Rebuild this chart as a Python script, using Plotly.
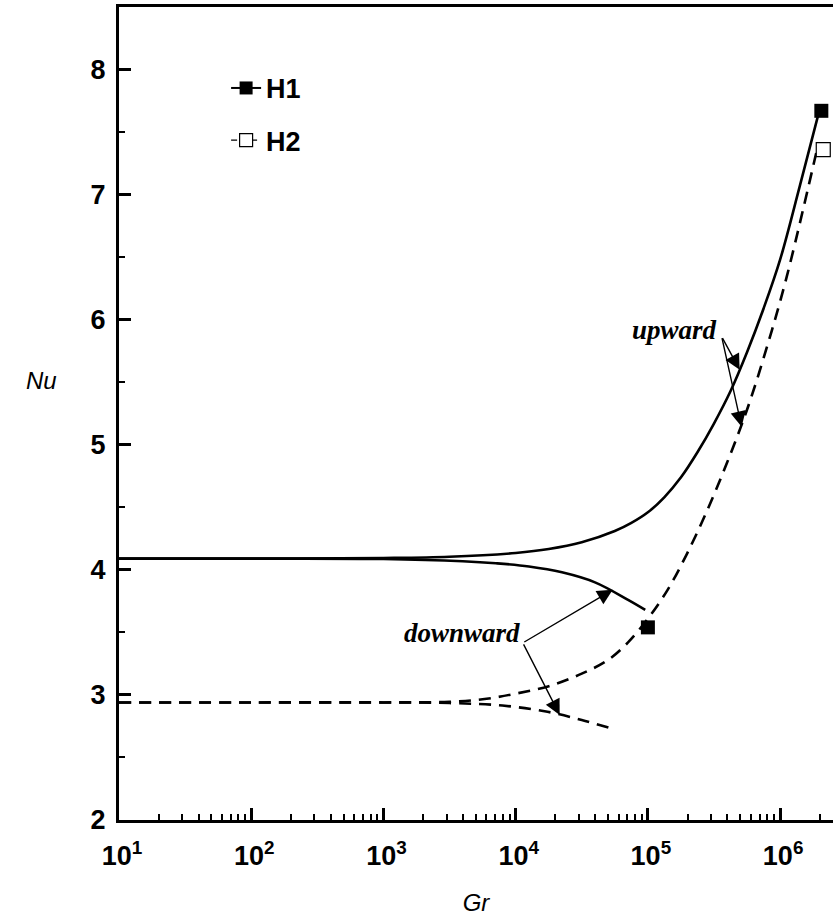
import plotly.graph_objects as go

# ---------------- data ----------------
h1_up_gr = [10, 100, 1000, 3.16e3, 1.0e4, 1.78e4, 3.16e4, 5.62e4, 7.5e4, 1.0e5, 1.33e5,
            1.78e5, 2.37e5, 3.16e5, 4.22e5, 5.62e5, 7.5e5, 1.0e6, 1.41e6, 2.0e6]
h1_up_nu = [4.09, 4.09, 4.095, 4.105, 4.135, 4.166, 4.22, 4.31, 4.375, 4.46, 4.58,
            4.74, 4.94, 5.17, 5.43, 5.74, 6.09, 6.48, 7.07, 7.69]

h1_dn_gr = [10, 100, 1000, 3.98e3, 7.08e3, 1.26e4, 2.24e4, 3.98e4, 7.08e4, 9.55e4]
h1_dn_nu = [4.09, 4.09, 4.087, 4.069, 4.053, 4.027, 3.98, 3.90, 3.76, 3.68]

h1_mk_gr = [1.0e5, 2.05e6]
h1_mk_nu = [3.54, 7.67]

h2_up_gr = [10, 100, 1000, 3.16e3, 5.62e3, 1.0e4, 1.78e4, 3.16e4, 5.01e4, 7.08e4,
            1.0e5, 1.41e5, 2.0e5, 2.82e5, 3.98e5, 5.62e5, 7.94e5, 1.12e6, 1.9e6]
h2_up_nu = [2.94, 2.94, 2.94, 2.945, 2.965, 3.01, 3.07, 3.17, 3.28, 3.42,
            3.61, 3.84, 4.14, 4.48, 4.86, 5.28, 5.78, 6.34, 7.36]

h2_dn_gr = [10, 100, 1000, 3.16e3, 7.94e3, 1.74e4, 3.16e4, 5.13e4]
h2_dn_nu = [2.94, 2.94, 2.94, 2.935, 2.915, 2.865, 2.80, 2.736]

h2_mk_gr = [2.12e6]
h2_mk_nu = [7.36]

x_tickvals = [1e1, 1e2, 1e3, 1e4, 1e5, 1e6]
x_ticktext = ["10<sup>1</sup>", "10<sup>2</sup>", "10<sup>3</sup>",
              "10<sup>4</sup>", "10<sup>5</sup>", "10<sup>6</sup>"]

SANS = "Liberation Sans, Arial, sans-serif"
SERIF = "Liberation Serif, Times New Roman, serif"

fig = go.Figure()

# curves
for gx, ny in [(h1_up_gr, h1_up_nu), (h1_dn_gr, h1_dn_nu)]:
    fig.add_trace(go.Scatter(x=gx, y=ny, mode="lines", showlegend=False,
                             legendgroup="H1",
                             line=dict(color="black", width=2.6, shape="spline", smoothing=1.0)))
for gx, ny in [(h2_up_gr, h2_up_nu), (h2_dn_gr, h2_dn_nu)]:
    fig.add_trace(go.Scatter(x=gx, y=ny, mode="lines", showlegend=False,
                             legendgroup="H2",
                             line=dict(color="black", width=2.6, dash="12px,8px",
                                       shape="spline", smoothing=1.0)))

# markers
fig.add_trace(go.Scatter(x=h1_mk_gr, y=h1_mk_nu, mode="markers", showlegend=False,
                         legendgroup="H1",
                         marker=dict(symbol="square", size=14, color="black",
                                     line=dict(color="black", width=0)),
                         cliponaxis=False))
fig.add_trace(go.Scatter(x=h2_mk_gr, y=h2_mk_nu, mode="markers", showlegend=False,
                         legendgroup="H2",
                         marker=dict(symbol="square", size=14, color="white",
                                     line=dict(color="black", width=1.2)),
                         cliponaxis=False))

# legend entries
fig.add_trace(go.Scatter(x=[None], y=[None], mode="lines+markers", name="H1",
                         legendgroup="H1",
                         line=dict(color="black", width=2),
                         marker=dict(symbol="square", size=13, color="black")))
fig.add_trace(go.Scatter(x=[None], y=[None], mode="lines+markers", name="H2",
                         legendgroup="H2",
                         line=dict(color="black", width=1.3, dash="6px,4px"),
                         marker=dict(symbol="square", size=13, color="white",
                                     line=dict(color="black", width=1.2))))

arrow = dict(showarrow=True, arrowhead=2, arrowsize=2.2, arrowwidth=1.4,
             arrowcolor="black", axref="x", ayref="y", text="")

annotations = [
    # upward
    dict(x=5.694, y=5.60, ax=5.558, ay=5.864, **arrow),
    dict(x=5.709, y=5.144, ax=5.558, ay=5.864, **arrow),
    dict(x=5.203, y=5.92, text="<b><i>upward</i></b>", showarrow=False,
         xanchor="center", yanchor="middle",
         font=dict(family=SERIF, size=27, color="black")),
    # downward
    dict(x=4.734, y=3.84, ax=4.054, ay=3.416, **arrow),
    dict(x=4.333, y=2.84, ax=4.054, ay=3.416, **arrow),
    dict(x=3.593, y=3.496, text="<b><i>downward</i></b>", showarrow=False,
         xanchor="center", yanchor="middle",
         font=dict(family=SERIF, size=27, color="black")),
    # y title
    dict(x=-0.108, y=0.541, xref="paper", yref="paper", text="<i>Nu</i>",
         showarrow=False, xanchor="center", yanchor="middle",
         font=dict(family=SANS, size=24, color="black")),
]

fig.update_layout(
    width=833, height=919,
    margin=dict(l=119, r=0, t=7, b=99),
    paper_bgcolor="white", plot_bgcolor="white",
    annotations=annotations,
    showlegend=True,
    legend=dict(x=0.15, y=0.93, xanchor="left", yanchor="top",
                bgcolor="rgba(0,0,0,0)", borderwidth=0,
                font=dict(family=SANS, size=27, color="black", weight="bold"),
                tracegroupgap=14, traceorder="grouped"),
    xaxis=dict(type="log", range=[1, 6.4],
               tickvals=x_tickvals, ticktext=x_ticktext,
               ticks="inside", ticklen=12, tickwidth=3, tickcolor="black",
               showline=True, linewidth=3, linecolor="black", mirror=True,
               showgrid=False, zeroline=False,
               tickfont=dict(family=SANS, size=27, color="black", weight="bold"),
               ticklabelstandoff=10, ticklabelshift=3,
               minor=dict(ticks="inside", ticklen=6, tickwidth=2, tickcolor="black",
                          dtick="D1", showgrid=False),
               title=dict(text="<i>Gr</i>", standoff=24,
                          font=dict(family=SANS, size=24, color="black"))),
    yaxis=dict(range=[2, 8.5], dtick=1, tick0=2,
               ticks="inside", ticklen=12, tickwidth=3, tickcolor="black",
               showline=True, linewidth=3, linecolor="black", mirror=False,
               showgrid=False, zeroline=False,
               tickfont=dict(family=SANS, size=27, color="black", weight="bold"),
               ticklabelstandoff=5,
               minor=dict(ticks="inside", ticklen=6, tickwidth=2, tickcolor="black",
                          dtick=0.5, showgrid=False)),
)

fig.write_html("out.html",
               config={"displayModeBar": False},
               post_script="document.body.style.margin='0';document.body.style.overflow='hidden';")
